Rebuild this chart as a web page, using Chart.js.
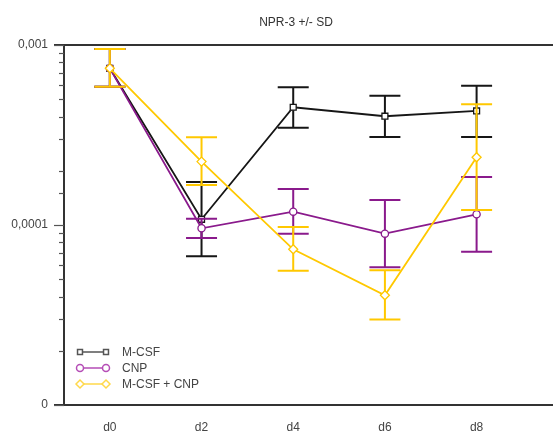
<!DOCTYPE html>
<html>
<head>
<meta charset="utf-8">
<script src="https://cdn.jsdelivr.net/npm/chart.js@4/dist/chart.umd.min.js"></script>
<style>
  body { margin: 0; background: #fff; }
</style>
</head>
<body>
<canvas id="GraficoNPR3" width="553" height="433"></canvas>
<script>
var dias = ['d0', 'd2', 'd4', 'd6', 'd8'];

// M-CSF (media, +SD, -SD)
var mcsf    = [7.42e-4, 1.076e-4, 4.51e-4, 4.02e-4, 4.30e-4];
var mcsfSup = [9.50e-4, 1.734e-4, 5.82e-4, 5.23e-4, 5.94e-4];
var mcsfInf = [5.86e-4, 6.70e-5, 3.47e-4, 3.08e-4, 3.08e-4];

// CNP
var cnp    = [7.42e-4, 9.59e-5, 1.186e-4, 8.95e-5, 1.147e-4];
var cnpSup = [9.50e-4, 1.084e-4, 1.585e-4, 1.377e-4, 1.848e-4];
var cnpInf = [5.86e-4, 8.47e-5, 8.95e-5, 5.82e-5, 7.11e-5];

// M-CSF + CNP
var ambos    = [7.42e-4, 2.25e-4, 7.33e-5, 4.07e-5, 2.38e-4];
var ambosSup = [9.50e-4, 3.07e-4, 9.75e-5, 5.60e-5, 4.68e-4];
var ambosInf = [5.86e-4, 1.668e-4, 5.57e-5, 2.99e-5, 1.21e-4];

function pontos(valores) {
    return valores.map(function (v, i) { return { x: i * 2, y: v }; });
}

var barrasErro = {
    id: 'barrasErro',
    beforeDatasetDraw: function (chart, args) {
        var ds = chart.data.datasets[args.index];
        var ctx = chart.ctx;
        var xs = chart.scales.x, ys = chart.scales.y;
        ctx.save();
        ctx.strokeStyle = ds.borderColor;
        ctx.lineWidth = 2;
        ds.sup.forEach(function (s, i) {
            var px = xs.getPixelForValue(i * 2);
            var pt = ys.getPixelForValue(s);
            var pb = ys.getPixelForValue(ds.inf[i]);
            ctx.beginPath();
            ctx.moveTo(px, pt); ctx.lineTo(px, pb);
            ctx.moveTo(px - 15.5, pt); ctx.lineTo(px + 15.5, pt);
            ctx.moveTo(px - 15.5, pb); ctx.lineTo(px + 15.5, pb);
            ctx.stroke();
        });
        ctx.restore();
    }
};

var moldura = {
    id: 'moldura',
    afterDraw: function (chart) {
        var ctx = chart.ctx, a = chart.chartArea, ys = chart.scales.y;
        ctx.save();
        ctx.strokeStyle = '#333';
        ctx.lineWidth = 2;
        ctx.beginPath();
        ctx.moveTo(a.left, a.top); ctx.lineTo(a.left, a.bottom);
        ctx.moveTo(a.left - 10, a.top); ctx.lineTo(553, a.top);
        ctx.moveTo(a.left - 10, a.bottom); ctx.lineTo(553, a.bottom);
        ctx.stroke();
        ctx.lineWidth = 1.2;
        ctx.strokeStyle = '#555';
        ys.ticks.forEach(function (t) {
            var lg = Math.log10(t.value);
            var maior = Math.abs(lg - Math.round(lg)) < 1e-6;
            var py = Math.round(ys.getPixelForValue(t.value)) + 0.5;
            ctx.beginPath();
            ctx.moveTo(a.left - (maior ? 10 : 5), py); ctx.lineTo(a.left, py);
            ctx.stroke();
        });

        // titulo
        ctx.fillStyle = '#333';
        ctx.font = '12px "Liberation Sans", Arial, sans-serif';
        ctx.textAlign = 'center';
        ctx.textBaseline = 'middle';
        ctx.fillText('NPR-3 +/- SD', 296, 23);

        // legenda
        ctx.textAlign = 'left';
        ctx.fillStyle = '#444';
        chart.data.datasets.forEach(function (ds, i) {
            var ly = 352 + i * 16;
            ctx.strokeStyle = ds.legenda;
            ctx.lineWidth = 1.5;
            ctx.beginPath();
            ctx.moveTo(80, ly); ctx.lineTo(106, ly);
            ctx.stroke();
            ctx.fillStyle = '#fff';
            [80, 106].forEach(function (lx) {
                Chart.helpers.drawPoint(ctx, { pointStyle: ds.pointStyle, radius: ds.pointStyle === 'rectRot' ? 4 : 3.5, rotation: 0, borderWidth: 1.2 }, lx, ly);
            });
            ctx.fillStyle = '#444';
            ctx.fillText(ds.label, 122, ly + 1);
        });
        ctx.restore();
    }
};

var ctx = document.getElementById('GraficoNPR3').getContext('2d');
var grafico = new Chart(ctx, {
    type: 'line',
    data: {
        datasets: [{
            label: 'M-CSF',
            data: pontos(mcsf),
            sup: mcsfSup,
            inf: mcsfInf,
            borderColor: '#161616',
            legenda: '#555',
            backgroundColor: '#fff',
            pointStyle: 'rect',
            pointRadius: 4.2,
            pointBorderWidth: 1.3,
            borderWidth: 1.8,
            order: 2
        }, {
            label: 'CNP',
            data: pontos(cnp),
            sup: cnpSup,
            inf: cnpInf,
            borderColor: '#8a1a8c',
            legenda: '#b54db6',
            backgroundColor: '#fff',
            pointStyle: 'circle',
            pointRadius: 3.6,
            pointBorderWidth: 1.3,
            borderWidth: 1.8,
            order: 1
        }, {
            label: 'M-CSF + CNP',
            data: pontos(ambos),
            sup: ambosSup,
            inf: ambosInf,
            borderColor: '#ffc800',
            legenda: '#ffd84a',
            backgroundColor: '#fff',
            pointStyle: 'rectRot',
            pointRadius: 4.5,
            pointBorderWidth: 1.3,
            borderWidth: 1.8,
            order: 0
        }]
    },
    options: {
        responsive: false,
        animation: false,
        layout: { padding: { top: 45, right: 0, left: 0, bottom: 0 } },
        plugins: {
            legend: { display: false },
            title: { display: false },
            tooltip: { enabled: false }
        },
        scales: {
            x: {
                type: 'linear',
                min: -1,
                max: 9.54,
                grid: { display: false, drawTicks: false },
                border: { display: false },
                afterBuildTicks: function (s) {
                    s.ticks = dias.map(function (d, i) { return { value: i * 2 }; });
                },
                afterFit: function (s) { s.height = 28; },
                ticks: {
                    padding: 15,
                    color: '#444',
                    font: { family: '"Liberation Sans", Arial, sans-serif', size: 12 },
                    callback: function (v) { return dias[v / 2]; }
                }
            },
            y: {
                type: 'logarithmic',
                min: 1e-5,
                max: 1e-3,
                grid: { display: false, drawTicks: false },
                border: { display: false },
                afterFit: function (s) { s.width = 64; },
                ticks: {
                    padding: 16,
                    autoSkip: false,
                    color: '#444',
                    font: { family: '"Liberation Sans", Arial, sans-serif', size: 12 },
                    callback: function (v) {
                        var lg = Math.log10(v);
                        if (Math.abs(lg + 3) < 1e-6) return '0,001';
                        if (Math.abs(lg + 4) < 1e-6) return '0,0001';
                        if (Math.abs(lg + 5) < 1e-6) return '0';
                        return '';
                    }
                }
            }
        }
    },
    plugins: [barrasErro, moldura]
});
</script>
</body>
</html>
